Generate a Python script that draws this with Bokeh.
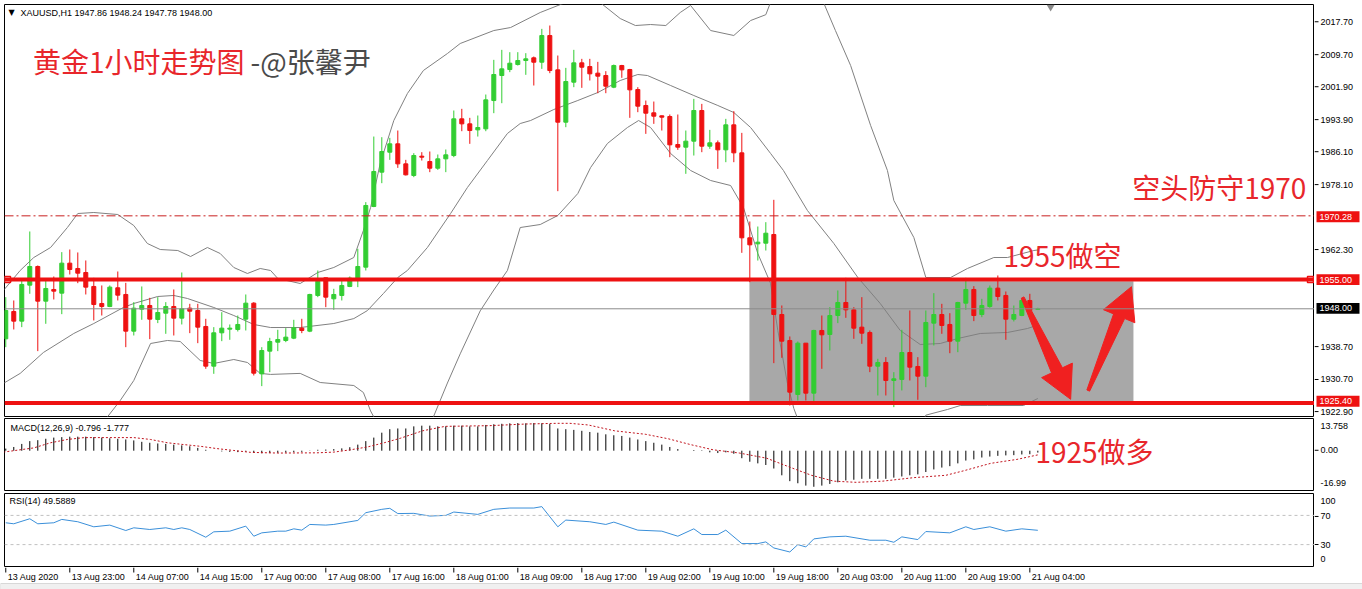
import math
from bokeh.plotting import figure
from bokeh.models import Range1d, Span, ColumnDataSource
from bokeh.layouts import column, row
from bokeh.core.properties import value
from bokeh.embed import file_html
from bokeh.resources import INLINE

# ---------------- data ----------------
symbol = "XAUUSD,H1"
opens = [
    1940.80, 1947.35, 1945.04, 1953.67, 1958.14, 1949.83, 1952.63, 1951.75, 1958.94, 1957.66,
    1956.70, 1953.35, 1949.27, 1948.55, 1953.03, 1951.43, 1942.64, 1947.91, 1948.79, 1945.44,
    1946.95, 1948.55, 1945.76, 1948.15, 1947.59, 1943.76, 1934.25, 1942.24, 1943.12, 1943.04,
    1945.52, 1949.35, 1932.41, 1937.85, 1940.00, 1940.40, 1940.96, 1943.36, 1942.64, 1951.19,
    1955.42, 1950.39, 1951.19, 1953.35, 1954.94, 1957.98, 1972.52, 1980.75, 1985.54, 1987.54,
    1982.74, 1979.95, 1984.58, 1983.30, 1981.70, 1983.94, 1984.74, 1993.53, 1992.33, 1990.89,
    1991.13, 1997.92, 2003.92, 2005.35, 2006.55, 2007.51, 2008.15, 2007.11, 2013.50, 2005.27,
    1992.73, 2002.32, 2006.95, 2006.07, 2004.48, 2003.92, 2001.12, 2006.31, 2005.35, 2000.56,
    1996.73, 1994.97, 1994.25, 1994.09, 1987.38, 1986.74, 1988.18, 1995.53, 1986.98, 1987.78,
    1986.10, 1992.09, 1985.38, 1965.01, 1963.57, 1963.73, 1965.81, 1946.63, 1940.40, 1927.46,
    1939.76, 1927.78, 1942.80, 1941.84, 1946.39, 1949.51, 1947.75, 1943.60, 1942.32, 1934.25,
    1935.13, 1930.81, 1931.05, 1937.52, 1934.17, 1931.85, 1944.56, 1946.63, 1944.24, 1940.24,
    1949.35, 1952.63, 1946.63, 1948.55, 1952.95, 1951.19, 1945.51, 1946.39, 1949.99, 1947.86,
]
highs = [
    1950.79, 1949.99, 1955.18, 1966.53, 1958.38, 1954.94, 1955.74, 1961.58, 1962.21, 1961.50,
    1959.58, 1955.42, 1953.59, 1953.59, 1956.94, 1954.22, 1949.59, 1953.35, 1950.63, 1950.79,
    1949.59, 1952.63, 1956.70, 1949.19, 1949.19, 1945.60, 1943.60, 1947.19, 1944.24, 1946.39,
    1951.43, 1949.59, 1938.80, 1941.04, 1942.96, 1943.36, 1945.36, 1945.60, 1951.59, 1957.18,
    1955.42, 1952.79, 1954.78, 1955.74, 1962.37, 1973.56, 1989.29, 1989.13, 1988.98, 1990.73,
    1983.70, 1985.30, 1985.54, 1985.70, 1984.98, 1986.18, 1995.53, 1995.93, 1993.77, 1994.33,
    1999.36, 2007.67, 2010.07, 2009.51, 2009.51, 2009.27, 2008.47, 2015.10, 2015.90, 2008.71,
    2005.75, 2010.07, 2007.91, 2007.91, 2007.19, 2004.96, 2006.55, 2006.47, 2005.51, 2001.12,
    1997.92, 1997.68, 1994.33, 1994.57, 1994.57, 1990.73, 1998.32, 1997.12, 1990.89, 1988.34,
    1993.53, 1995.37, 1990.17, 1968.92, 1967.72, 1968.76, 1974.12, 1948.79, 1941.36, 1940.16,
    1939.76, 1942.96, 1946.39, 1948.39, 1952.39, 1955.42, 1948.39, 1950.79, 1942.80, 1936.01,
    1936.41, 1932.81, 1942.96, 1947.59, 1936.41, 1947.59, 1951.75, 1949.19, 1946.95, 1949.67,
    1955.42, 1953.42, 1950.39, 1953.58, 1955.98, 1952.15, 1948.79, 1950.39, 1951.59, 1948.24,
]
lows = [
    1938.80, 1943.04, 1943.60, 1951.59, 1937.85, 1944.40, 1950.23, 1946.71, 1956.22, 1954.14,
    1951.43, 1945.20, 1946.39, 1948.39, 1949.99, 1938.80, 1941.60, 1945.36, 1940.72, 1944.56,
    1942.00, 1941.60, 1944.24, 1942.16, 1939.76, 1933.61, 1932.41, 1940.24, 1940.56, 1942.56,
    1942.80, 1932.01, 1929.46, 1932.81, 1937.85, 1940.00, 1940.72, 1942.16, 1942.40, 1950.79,
    1948.39, 1947.75, 1949.99, 1953.19, 1953.19, 1957.18, 1972.36, 1978.11, 1983.70, 1981.78,
    1979.95, 1979.55, 1983.54, 1980.75, 1981.30, 1980.75, 1984.34, 1990.57, 1987.54, 1989.29,
    1990.57, 1994.89, 1997.28, 2004.72, 2006.31, 2004.08, 2001.52, 2005.51, 2004.48, 1976.19,
    1991.53, 2001.12, 2000.96, 2002.72, 1999.68, 1999.68, 2000.88, 2003.36, 1993.77, 1995.13,
    1989.93, 1992.33, 1990.73, 1984.34, 1986.10, 1980.35, 1984.74, 1985.54, 1986.34, 1981.54,
    1983.14, 1983.14, 1961.41, 1954.38, 1959.57, 1961.97, 1934.97, 1936.25, 1924.82, 1926.02,
    1926.02, 1925.22, 1933.61, 1938.00, 1944.56, 1945.83, 1940.80, 1939.60, 1932.81, 1927.22,
    1927.22, 1924.42, 1928.42, 1930.81, 1926.18, 1929.21, 1939.20, 1942.00, 1937.36, 1937.60,
    1947.75, 1945.04, 1945.99, 1948.23, 1949.99, 1940.56, 1944.96, 1946.23, 1947.19, 1947.78,
]
closes = [
    1947.59, 1945.04, 1953.83, 1958.14, 1949.83, 1952.87, 1952.23, 1958.94, 1957.42, 1956.54,
    1953.19, 1949.03, 1948.55, 1953.19, 1951.27, 1942.64, 1948.15, 1948.79, 1945.52, 1947.11,
    1948.55, 1945.76, 1947.99, 1947.43, 1943.60, 1934.25, 1942.24, 1943.36, 1943.36, 1944.24,
    1949.35, 1932.57, 1938.00, 1940.16, 1940.64, 1941.20, 1943.44, 1942.80, 1951.43, 1954.62,
    1950.79, 1951.43, 1953.59, 1955.34, 1958.14, 1972.76, 1980.91, 1985.70, 1987.54, 1982.74,
    1980.11, 1984.74, 1984.34, 1981.70, 1983.94, 1984.90, 1993.53, 1992.33, 1990.73, 1991.45,
    1998.08, 2004.16, 2005.51, 2006.87, 2007.51, 2007.91, 2007.11, 2013.50, 2005.11, 1992.73,
    2002.48, 2006.95, 2005.91, 2004.32, 2003.76, 2001.36, 2006.31, 2005.27, 2000.48, 1996.57,
    1994.89, 1994.17, 1993.93, 1987.30, 1986.74, 1988.18, 1995.53, 1986.98, 1987.78, 1986.10,
    1992.09, 1985.38, 1965.01, 1963.33, 1963.97, 1966.12, 1946.63, 1940.24, 1928.02, 1939.76,
    1927.78, 1942.80, 1941.76, 1946.39, 1949.51, 1947.75, 1943.36, 1942.16, 1934.25, 1935.13,
    1930.81, 1931.21, 1937.52, 1934.01, 1931.85, 1944.72, 1946.63, 1944.00, 1940.24, 1949.51,
    1952.63, 1946.39, 1948.79, 1952.95, 1950.95, 1945.51, 1946.63, 1949.99, 1947.59, 1948.00,
]

# Bollinger bands (20,2): (bar, price)
bb_upper_bar = [-0.3, 1.8, 3.5, 5.6, 7.7, 9.0, 11.0, 14.0, 16.0, 17.7, 19.3, 21.5, 23.1, 25.2, 26.8,
                28.5, 30.2, 31.8, 33.1, 34.0, 36.8, 39.0, 41.0, 43.5, 44.7, 45.6, 46.8, 48.5, 50.2,
                52.2, 55.2, 56.8, 61.0, 63.1, 66.8, 70.6, 74.3, 76.8, 78.7, 80.6, 82.5, 84.3, 85.6,
                88.1, 91.0, 93.1, 95.0, 96.5, 98.5, 101.2, 103.7, 105.6, 108.1, 110.2, 111.0, 113.5,
                115.0, 118.1, 120.2, 123.5, 125.2, 128.5, 129.0]
bb_upper = [1952.38, 1957.18, 1960.29, 1962.69, 1967.48, 1970.84, 1971.08, 1970.60, 1967.96, 1963.65,
            1962.21, 1961.97, 1960.53, 1962.69, 1961.25, 1957.90, 1956.46, 1957.66, 1957.18, 1955.26,
            1954.06, 1956.70, 1957.90, 1960.29, 1966.77, 1972.28, 1982.83, 1993.13, 1999.60, 2005.12,
            2009.19, 2011.59, 2014.70, 2015.42, 2019.02, 2021.90, 2021.40, 2017.58, 2015.90, 2016.14,
            2015.90, 2019.02, 2020.70, 2014.70, 2013.51, 2017.10, 2018.50, 2026.00, 2031.00, 2026.00,
            2014.70, 2006.31, 1991.93, 1981.15, 1973.96, 1965.09, 1955.50, 1955.50, 1957.66, 1960.29,
            1960.29, 1961.97, 1962.10]
bb_mid_bar = [-0.3, 1.8, 4.7, 8.5, 11.0, 14.7, 16.0, 19.0, 21.0, 22.7, 26.0, 28.5, 31.0, 33.1, 36.8,
              41.0, 43.5, 45.2, 47.2, 49.0, 50.2, 52.7, 55.6, 57.7, 60.2, 62.7, 64.3, 65.6, 68.5,
              71.5, 74.0, 76.8, 79.0, 80.2, 83.1, 86.0, 89.0, 91.0, 93.1, 95.6, 97.2, 100.2, 103.5,
              106.5, 109.3, 111.8, 114.3, 116.8, 119.0, 121.8, 125.2, 127.7, 129.0]
bb_mid = [1930.11, 1932.51, 1937.52, 1942.08, 1944.47, 1948.31, 1949.27, 1950.95, 1951.19, 1950.47,
          1948.31, 1946.39, 1944.23, 1943.51, 1943.51, 1944.47, 1945.65, 1947.57, 1951.66, 1955.50,
          1957.18, 1962.69, 1970.84, 1977.07, 1983.54, 1990.02, 1992.41, 1993.13, 1995.77, 1997.93,
          1999.84, 2002.72, 2004.16, 2003.92, 2001.52, 1999.12, 1996.73, 1995.05, 1991.45, 1985.22,
          1981.15, 1971.56, 1963.65, 1955.50, 1949.27, 1942.80, 1939.44, 1939.68, 1940.88, 1942.08,
          1942.32, 1943.27, 1944.10]
bb_lower_bar = [-0.3, 5.6, 9.0, 11.0, 14.3, 16.0, 18.1, 20.2, 21.8, 24.3, 26.0, 28.5, 30.2, 31.8, 33.1,
                36.8, 39.3, 43.5, 44.7, 45.6, 47.0, 49.0, 51.0, 53.0, 55.2, 56.8, 59.3, 61.0, 62.7,
                64.3, 66.8, 69.0, 71.5, 73.1, 75.2, 77.7, 79.1, 80.6, 83.1, 85.6, 88.1, 90.6, 92.2,
                94.0, 95.6, 96.5, 97.7, 98.5, 100.0, 103.0, 106.0, 109.0, 112.0, 113.5, 115.0, 117.7,
                119.3, 122.7, 127.2, 129.0]
bb_lower = [1908.04, 1914.30, 1915.20, 1917.90, 1926.00, 1930.81, 1939.68, 1940.40, 1940.16, 1935.61,
            1934.89, 1935.84, 1935.13, 1932.51, 1932.27, 1932.51, 1930.33, 1929.61, 1927.93, 1923.50,
            1918.50, 1915.50, 1915.00, 1920.00, 1930.20, 1937.20, 1947.50, 1952.50, 1957.18, 1967.48,
            1968.20, 1970.36, 1975.63, 1981.86, 1987.62, 1991.45, 1993.13, 1991.45, 1985.22, 1981.15,
            1978.75, 1977.55, 1972.28, 1961.25, 1954.06, 1942.80, 1930.09, 1924.10, 1916.43, 1911.50,
            1909.50, 1910.00, 1913.00, 1915.00, 1922.50, 1923.86, 1924.81, 1924.81, 1924.81, 1926.49]

# MACD(12,26,9): histogram per bar, signal line read at points
macd = [
    0.9, 1.6, 2.9, 4.1, 4.5, 5.1, 5.6, 5.8, 6.0, 6.0,
    6.0, 5.8, 5.6, 5.3, 5.1, 4.8, 4.4, 3.8, 3.4, 3.1,
    2.9, 2.6, 2.3, 1.9, 1.2, 0.4, 0.0, -0.3, -0.5, -0.6,
    -0.4, -0.9, -1.1, -1.0, -0.9, -0.8, -0.6, -0.5, 0.1, 0.4,
    0.5, 0.7, 1.0, 1.5, 2.6, 4.1, 5.6, 7.7, 9.2, 9.5,
    9.5, 10.4, 10.7, 10.7, 10.4, 10.4, 10.7, 10.7, 10.4, 10.4,
    11.0, 11.3, 11.5, 11.7, 11.8, 11.7, 11.8, 11.7, 11.4, 9.5,
    9.2, 8.9, 8.5, 8.0, 7.7, 7.0, 6.6, 6.3, 5.6, 4.8,
    4.1, 3.4, 2.6, 1.6, 0.7, 0.0, 0.3, 0.2, -0.7, -1.0,
    -0.7, -1.3, -3.2, -4.7, -5.4, -6.1, -7.6, -10.5, -13.0, -13.9,
    -14.9, -15.4, -14.9, -14.2, -13.5, -12.7, -12.4, -12.0, -12.0, -12.0,
    -12.0, -11.5, -11.0, -10.5, -10.1, -9.1, -8.0, -7.2, -6.6, -5.4,
    -4.2, -3.7, -2.9, -2.5, -2.2, -2.0, -1.9, -1.6, -1.5, -0.796,
]
signal_bar = [-0.3, 3.5, 5.6, 7.7, 9.8, 16.0, 18.1, 20.2, 22.3, 24.3, 26.4, 28.5, 30.6, 34.0, 38.9,
              41.0, 43.1, 45.2, 47.3, 49.3, 52.1, 54.9, 60.5, 65.0, 68.9, 70.5, 72.8, 76.1, 80.0,
              82.8, 85.6, 88.4, 91.7, 95.1, 97.9, 100.7, 103.5, 106.3, 109.6, 113.5, 117.5, 119.7,
              123.1, 126.4, 129.0]
signal = [-0.6, 1.2, 3.4, 4.8, 5.6, 5.6, 4.8, 3.4, 2.6, 1.9, 0.9, 0.1, -0.7, -1.0, -0.9,
          -0.6, 0.4, 1.6, 3.4, 5.3, 8.5, 10.4, 10.7, 11.4, 11.7, 11.7, 11.0, 8.5, 7.0,
          5.1, 2.6, 0.4, -1.0, -3.2, -6.9, -10.5, -13.0, -13.5, -13.0, -11.5, -10.5, -8.6,
          -5.4, -3.7, -1.777]
macd_min, macd_max = -16.99, 13.758

# RSI(14)
rsi_bar = [0, 1, 3, 4, 6, 7, 9, 11, 13, 15, 16, 18, 20, 21, 22, 23, 25, 26, 28, 30, 31, 32, 34, 35,
           36, 37, 38, 40, 41, 44, 45, 47, 48, 49, 51, 53, 55, 56, 59, 61, 63, 66, 67, 69, 70, 73,
           75, 76, 79, 82, 84, 86, 87, 89, 90, 92, 94, 95, 96, 98, 99, 100, 101, 103, 105, 108,
           110, 111, 112, 114, 115, 118, 120, 121, 123, 125, 127, 129]
rsi = [59.9, 58.5, 65.4, 58.5, 59.9, 64.5, 61.3, 54.4, 56.7, 49.3, 53.0, 50.7, 53.0, 50.7, 53.0,
       50.7, 40.1, 47.5, 48.4, 55.3, 41.5, 46.1, 48.4, 48.4, 51.6, 49.8, 57.6, 56.7, 57.6, 63.1,
       73.7, 78.3, 79.7, 72.5, 72.8, 69.1, 70.0, 74.6, 71.4, 78.3, 80.1, 80.1, 82.0, 54.4, 63.6,
       61.3, 57.6, 60.8, 49.8, 48.4, 41.5, 51.6, 43.8, 43.8, 49.8, 31.4, 31.4, 33.7, 25.4, 19.9,
       30.0, 26.8, 37.8, 40.6, 41.5, 36.0, 36.0, 33.2, 40.6, 36.9, 47.9, 46.1, 54.4, 50.7, 54.4,
       48.4, 51.6, 49.5889]
rsi_levels = [70, 30]

time_labels = ["13 Aug 2020", "13 Aug 23:00", "14 Aug 07:00", "14 Aug 15:00", "17 Aug 00:00",
               "17 Aug 08:00", "17 Aug 16:00", "18 Aug 01:00", "18 Aug 09:00", "18 Aug 17:00",
               "19 Aug 02:00", "19 Aug 10:00", "19 Aug 18:00", "20 Aug 03:00", "20 Aug 11:00",
               "20 Aug 19:00", "21 Aug 04:00"]
bars_per_label = 8

price_ticks = [2017.70, 2009.70, 2001.90, 1993.90, 1986.10, 1978.10, 1962.30, 1938.70, 1930.70, 1922.90]
level_short = 1955.00
level_long = 1925.40
level_stop = 1970.28

# annotation anchors (bar index, price)
zone = dict(left=92.95, right=140.95, bottom=1925.8, top=1954.6)
arrow_tail_bar = [127.1, 135.3]
arrow_tail_price = [1950.7, 1928.4]
arrow_tip_bar = [133.1, 140.7]
arrow_tip_price = [1926.3, 1953.3]
title_text = ["黄金1小时走势图", " -@张馨尹"]
title_bar = [3.4, 30.6]
title_price = 2007.5
note_stop = ("空头防守1970", 140.8, 1977.1)
note_short = ("1955做空", 124.7, 1960.8)
note_long = ("1925做多", 128.7, 0.0)

# ---------------- styling ----------------
W = 1362
BL, BR = 4, 48
PANEL_W = W - BR
X_LO, X_HI = -0.16, 163.58
Y_LO, Y_HI = 1922.18, 2020.94
MAIN_TOP, MAIN_FRAME, MAIN_BOT = 4, 412, 2
PPX = (PANEL_W - BL) / (X_HI - X_LO)
PPY = MAIN_FRAME / (Y_HI - Y_LO)
GREEN = "#32cd32"
RED = "#ee1111"
TXT_RED = "#e8262b"
AX_FONT = "Liberation Sans"
AX_SIZE = "9px"

xr = Range1d(X_LO, X_HI)


def make_panel(h, yr, top, bottom):
    f = figure(width=PANEL_W, height=h, x_range=xr, y_range=yr, toolbar_location=None,
               output_backend="svg", y_axis_location=None, x_axis_location=None,
               min_border_left=BL, min_border_right=0, min_border_top=top,
               min_border_bottom=bottom, title=None)
    f.grid.visible = False
    f.outline_line_color = "black"
    f.outline_line_width = 1
    f.background_fill_color = "white"
    f.border_fill_color = "white"
    return f


def make_scale(h, lo, hi):
    """Right-hand price scale drawn as its own narrow figure (frame = whole canvas)."""
    f = figure(width=BR, height=h, x_range=Range1d(0, BR), y_range=Range1d(lo, hi),
               toolbar_location=None, output_backend="svg", x_axis_location=None,
               y_axis_location=None, min_border_left=0, min_border_right=0, min_border_top=0,
               min_border_bottom=0, title=None)
    f.grid.visible = False
    f.outline_line_color = None
    f.background_fill_color = "white"
    f.border_fill_color = "white"
    return f


def scale_ticks(f, ys, labels, tick=True):
    n = len(ys)
    if tick:
        f.segment(x0=[0] * n, y0=ys, x1=[4] * n, y1=ys, line_color="black", line_width=1)
    f.text(x=[6] * n, y=ys, text=labels, text_font=value(AX_FONT), text_font_size=AX_SIZE,
           text_color="black", text_baseline="middle", text_align="left")


def scale_boxes(f, ys, labels, colors, half):
    n = len(ys)
    f.quad(left=[2] * n, right=[45] * n, bottom=[y - half for y in ys], top=[y + half for y in ys],
           fill_color=colors, line_color=None)
    f.text(x=[5] * n, y=ys, text=labels, text_font=value(AX_FONT), text_font_size=AX_SIZE,
           text_color="white", text_baseline="middle", text_align="left")


# ---------------- main price panel ----------------
MAIN_H = MAIN_TOP + MAIN_FRAME + MAIN_BOT
p = make_panel(MAIN_H, Range1d(Y_LO, Y_HI), MAIN_TOP, MAIN_BOT)

p.quad(left=[zone["left"]], right=[zone["right"]], bottom=[zone["bottom"]], top=[zone["top"]],
       fill_color="#a8a8a8", line_color=None)

for xs, ys in ((bb_upper_bar, bb_upper), (bb_mid_bar, bb_mid), (bb_lower_bar, bb_lower)):
    p.line(xs, ys, line_color="#808080", line_width=1)

bars = list(range(len(closes)))
for is_up, col in ((True, GREEN), (False, RED)):
    idx = [i for i in bars if (closes[i] > opens[i]) == is_up]
    src = ColumnDataSource(dict(
        x=idx, hi=[highs[i] for i in idx], lo=[lows[i] for i in idx],
        top=[max(opens[i], closes[i]) for i in idx], bot=[min(opens[i], closes[i]) for i in idx]))
    p.segment(x0="x", y0="lo", x1="x", y1="hi", source=src, line_color=col, line_width=1)
    p.vbar(x="x", top="top", bottom="bot", width=0.5, source=src, fill_color=col,
           line_color=col, line_width=1)

p.add_layout(Span(location=closes[-1], dimension="width", line_color="#8c8c8c", line_width=1))
p.add_layout(Span(location=level_stop, dimension="width", line_color="#c82020", line_width=1,
                  line_dash="9 3 2 3"))
p.add_layout(Span(location=level_short, dimension="width", line_color=RED, line_width=4))
p.add_layout(Span(location=level_long, dimension="width", line_color=RED, line_width=4))
p.scatter(x=[X_LO + 3 / PPX, X_HI - 4 / PPX], y=[level_short, level_short], marker="square",
          size=6, fill_color="white", line_color=RED, line_width=1.5)

# arrows
HEAD_LEN = 32
for tb, tp, hb, hp in zip(arrow_tail_bar, arrow_tail_price, arrow_tip_bar, arrow_tip_price):
    X0, Y0, X1, Y1 = tb * PPX, tp * PPY, hb * PPX, hp * PPY
    dx, dy = X1 - X0, Y1 - Y0
    L = math.hypot(dx, dy)
    ux, uy = dx / L, dy / L
    nx, ny = -uy, ux
    bx, by = X1 - ux * HEAD_LEN, Y1 - uy * HEAD_LEN
    pts = [(X0 + nx * 1.5, Y0 + ny * 1.5), (bx + nx * 6, by + ny * 6), (bx + nx * 17, by + ny * 17),
           (X1, Y1), (bx - nx * 17, by - ny * 17), (bx - nx * 6, by - ny * 6),
           (X0 - nx * 1.5, Y0 - ny * 1.5)]
    p.patch([q[0] / PPX for q in pts], [q[1] / PPY for q in pts], fill_color="#f02020",
            line_color="#f02020", line_width=1)

# chart-shift marker
p.scatter(x=[len(closes) + 0.6], y=[Y_HI - 0.6], marker="inverted_triangle", size=8,
          fill_color="#8a8a8a", line_color=None)

# texts
cjk = value("Noto Sans CJK SC")
p.text(x=title_bar[:1], y=[title_price], text=title_text[:1], text_font=cjk, text_font_size="28px",
       text_color=TXT_RED, text_baseline="middle", text_align="left")
p.text(x=title_bar[1:], y=[title_price], text=title_text[1:], text_font=cjk, text_font_size="28px",
       text_color="#4a4a4a", text_baseline="middle", text_align="left")
p.text(x=[note_stop[1], note_short[1]], y=[note_stop[2], note_short[2]],
       text=[note_stop[0], note_short[0]], text_font=cjk, text_font_size="28px",
       text_color=TXT_RED, text_baseline="middle", text_align="left")

hdr = "%s  %.2f %.2f %.2f %.2f" % (symbol, opens[-1], highs[-1], lows[-1], closes[-1])
p.text(x=[X_LO + 4 / PPX], y=[Y_HI - 8 / PPY], text=["▼"], text_font=value("DejaVu Sans"),
       text_font_size="8px", text_color="black", text_baseline="middle", text_align="left")
p.text(x=[X_LO + 16 / PPX], y=[Y_HI - 8 / PPY], text=[hdr], text_font=value(AX_FONT),
       text_font_size=AX_SIZE, text_color="black", text_baseline="middle", text_align="left")

# main price scale
pa = make_scale(MAIN_H, Y_LO - MAIN_BOT / PPY, Y_HI + MAIN_TOP / PPY)
scale_ticks(pa, price_ticks, ["%.2f" % v for v in price_ticks])
box_levels = [level_stop, level_short, closes[-1], level_long]
scale_boxes(pa, box_levels, ["%.2f" % v for v in box_levels], [RED, RED, "black", RED], 5.5 / PPY)

# ---------------- MACD panel ----------------
M_TOP, M_FRAME, M_BOT = 0, 72, 1
MPPY = M_FRAME / (macd_max - macd_min)
pm = make_panel(M_TOP + M_FRAME + M_BOT, Range1d(macd_min, macd_max), M_TOP, M_BOT)
pm.segment(x0=bars, y0=[0] * len(bars), x1=bars, y1=macd, line_color="black", line_width=1)
pm.line(signal_bar, signal, line_color="#c0141e", line_width=1, line_dash="2 2")
pm.text(x=[X_LO + 6 / PPX], y=[macd_max - 9 / MPPY],
        text=["MACD(12,26,9) %.3f %.3f" % (macd[-1], signal[-1])], text_font=value(AX_FONT),
        text_font_size=AX_SIZE, text_color="black", text_baseline="middle", text_align="left")
pm.text(x=[note_long[1]], y=[note_long[2]], text=[note_long[0]], text_font=cjk,
        text_font_size="28px", text_color=TXT_RED, text_baseline="middle", text_align="left")

pma = make_scale(M_TOP + M_FRAME + M_BOT, macd_min - M_BOT / MPPY, macd_max)
scale_ticks(pma, [0.0], ["0.00"])
scale_ticks(pma, [macd_max - 8 / MPPY, macd_min + 7 / MPPY],
            ["%.3f" % macd_max, "%.2f" % macd_min], tick=False)

# ---------------- RSI panel ----------------
R_TOP, R_FRAME, R_BOT = 2, 73, 1
RPPY = R_FRAME / 100
pr = make_panel(R_TOP + R_FRAME + R_BOT, Range1d(0, 100), R_TOP, R_BOT)
for lv in rsi_levels:
    pr.add_layout(Span(location=lv, dimension="width", line_color="#c0c0c0", line_width=1,
                       line_dash="3 3"))
pr.line(rsi_bar, rsi, line_color="#3a8fd9", line_width=1)
pr.text(x=[X_LO + 5 / PPX], y=[100 - 7 / RPPY], text=["RSI(14) %.4f" % rsi[-1]],
        text_font=value(AX_FONT), text_font_size=AX_SIZE, text_color="black",
        text_baseline="middle", text_align="left")

pra = make_scale(R_TOP + R_FRAME + R_BOT, 0 - R_BOT / RPPY, 100 + R_TOP / RPPY)
scale_ticks(pra, rsi_levels, ["%d" % v for v in rsi_levels])
scale_ticks(pra, [100 - 6 / RPPY, 0 + 7 / RPPY], ["100", "0"], tick=False)

# ---------------- time axis strip (full width, same bar scale) ----------------
pt = figure(width=W, height=22, x_range=Range1d(X_LO - BL / PPX, X_HI + BR / PPX),
            y_range=Range1d(0, 22), toolbar_location=None, output_backend="svg",
            x_axis_location=None, y_axis_location=None, min_border_left=0, min_border_right=0,
            min_border_top=0, min_border_bottom=0, title=None)
pt.grid.visible = False
pt.outline_line_color = None
pt.background_fill_color = "white"
pt.quad(left=[X_LO - BL / PPX], right=[X_HI + BR / PPX], bottom=[0], top=[6],
        fill_color="#f0f0f0", line_color="#d8d8d8", line_width=1)
tick_bars = [i * bars_per_label for i in range(len(time_labels))]
pt.segment(x0=tick_bars, y0=[22] * len(tick_bars), x1=tick_bars, y1=[17] * len(tick_bars),
           line_color="black", line_width=1)
pt.text(x=tick_bars, y=[13] * len(tick_bars), text=time_labels, x_offset=2,
        text_font=value(AX_FONT), text_font_size=AX_SIZE, text_color="black",
        text_baseline="middle", text_align="left")

layout = column(row(p, pa, spacing=0), row(pm, pma, spacing=0), row(pr, pra, spacing=0), pt,
                spacing=0)
open("out.html", "w").write(file_html(layout, INLINE))
